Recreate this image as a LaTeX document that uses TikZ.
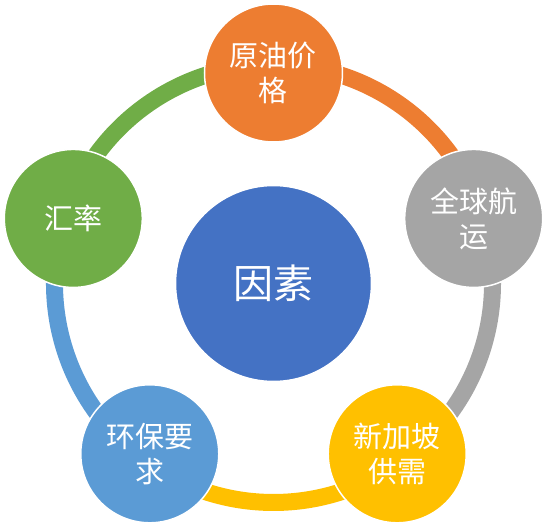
\documentclass[tikz,border=0pt]{standalone}
\usepackage{fontspec}
\setmainfont{Noto Sans CJK SC}
\usepackage{tikz}
\definecolor{oilorange}{HTML}{ED7D31}
\definecolor{shipgray}{HTML}{A5A5A5}
\definecolor{sgyellow}{HTML}{FFC000}
\definecolor{ecoblue}{HTML}{5B9BD5}
\definecolor{fxgreen}{HTML}{70AD47}
\definecolor{coreblue}{HTML}{4472C4}

\begin{document}
\begin{tikzpicture}[x=1pt,y=1pt,
    factor/.style={draw=white,line width=1.5pt,circle,minimum size=138pt,inner sep=0pt,
      text=white,align=center,font=\fontsize{29}{35}\selectfont},
    ring/.style={line width=17pt}]
  \useasboundingbox (-273.5,-248.5) rectangle (276.5,283.5);

  \coordinate (R1) at (90:219pt);
  \coordinate (R2) at (18:219pt);
  \coordinate (R3) at (-54:219pt);
  \coordinate (R4) at (-126:219pt);
  \coordinate (R5) at (162:219pt);

  \draw[ring,oilorange] (R1) arc[start angle=90,end angle=18,radius=219pt];
  \draw[ring,shipgray] (R2) arc[start angle=18,end angle=-54,radius=219pt];
  \draw[ring,sgyellow] (R3) arc[start angle=-54,end angle=-126,radius=219pt];
  \draw[ring,ecoblue] (R4) arc[start angle=-126,end angle=-198,radius=219pt];
  \draw[ring,fxgreen] (R5) arc[start angle=162,end angle=90,radius=219pt];

  \node[factor,fill=oilorange] (oil) at (90:210.5pt) {原油价\\格};
  \node[factor,fill=shipgray] (ship) at (18:210.5pt) {全球航\\运};
  \node[factor,fill=sgyellow] (supply) at (-54:210.5pt) {新加坡\\供需};
  \node[factor,fill=ecoblue] (eco) at (-126:210.5pt) {环保要\\求};
  \node[factor,fill=fxgreen] (fx) at (162:210.5pt) {汇率};

  \node[draw=white,line width=1.5pt,circle,fill=coreblue,minimum size=196pt,inner sep=0pt,
    text=white,font=\fontsize{40}{48}\selectfont] (core) at (0,0) {因素};
\end{tikzpicture}
\end{document}
